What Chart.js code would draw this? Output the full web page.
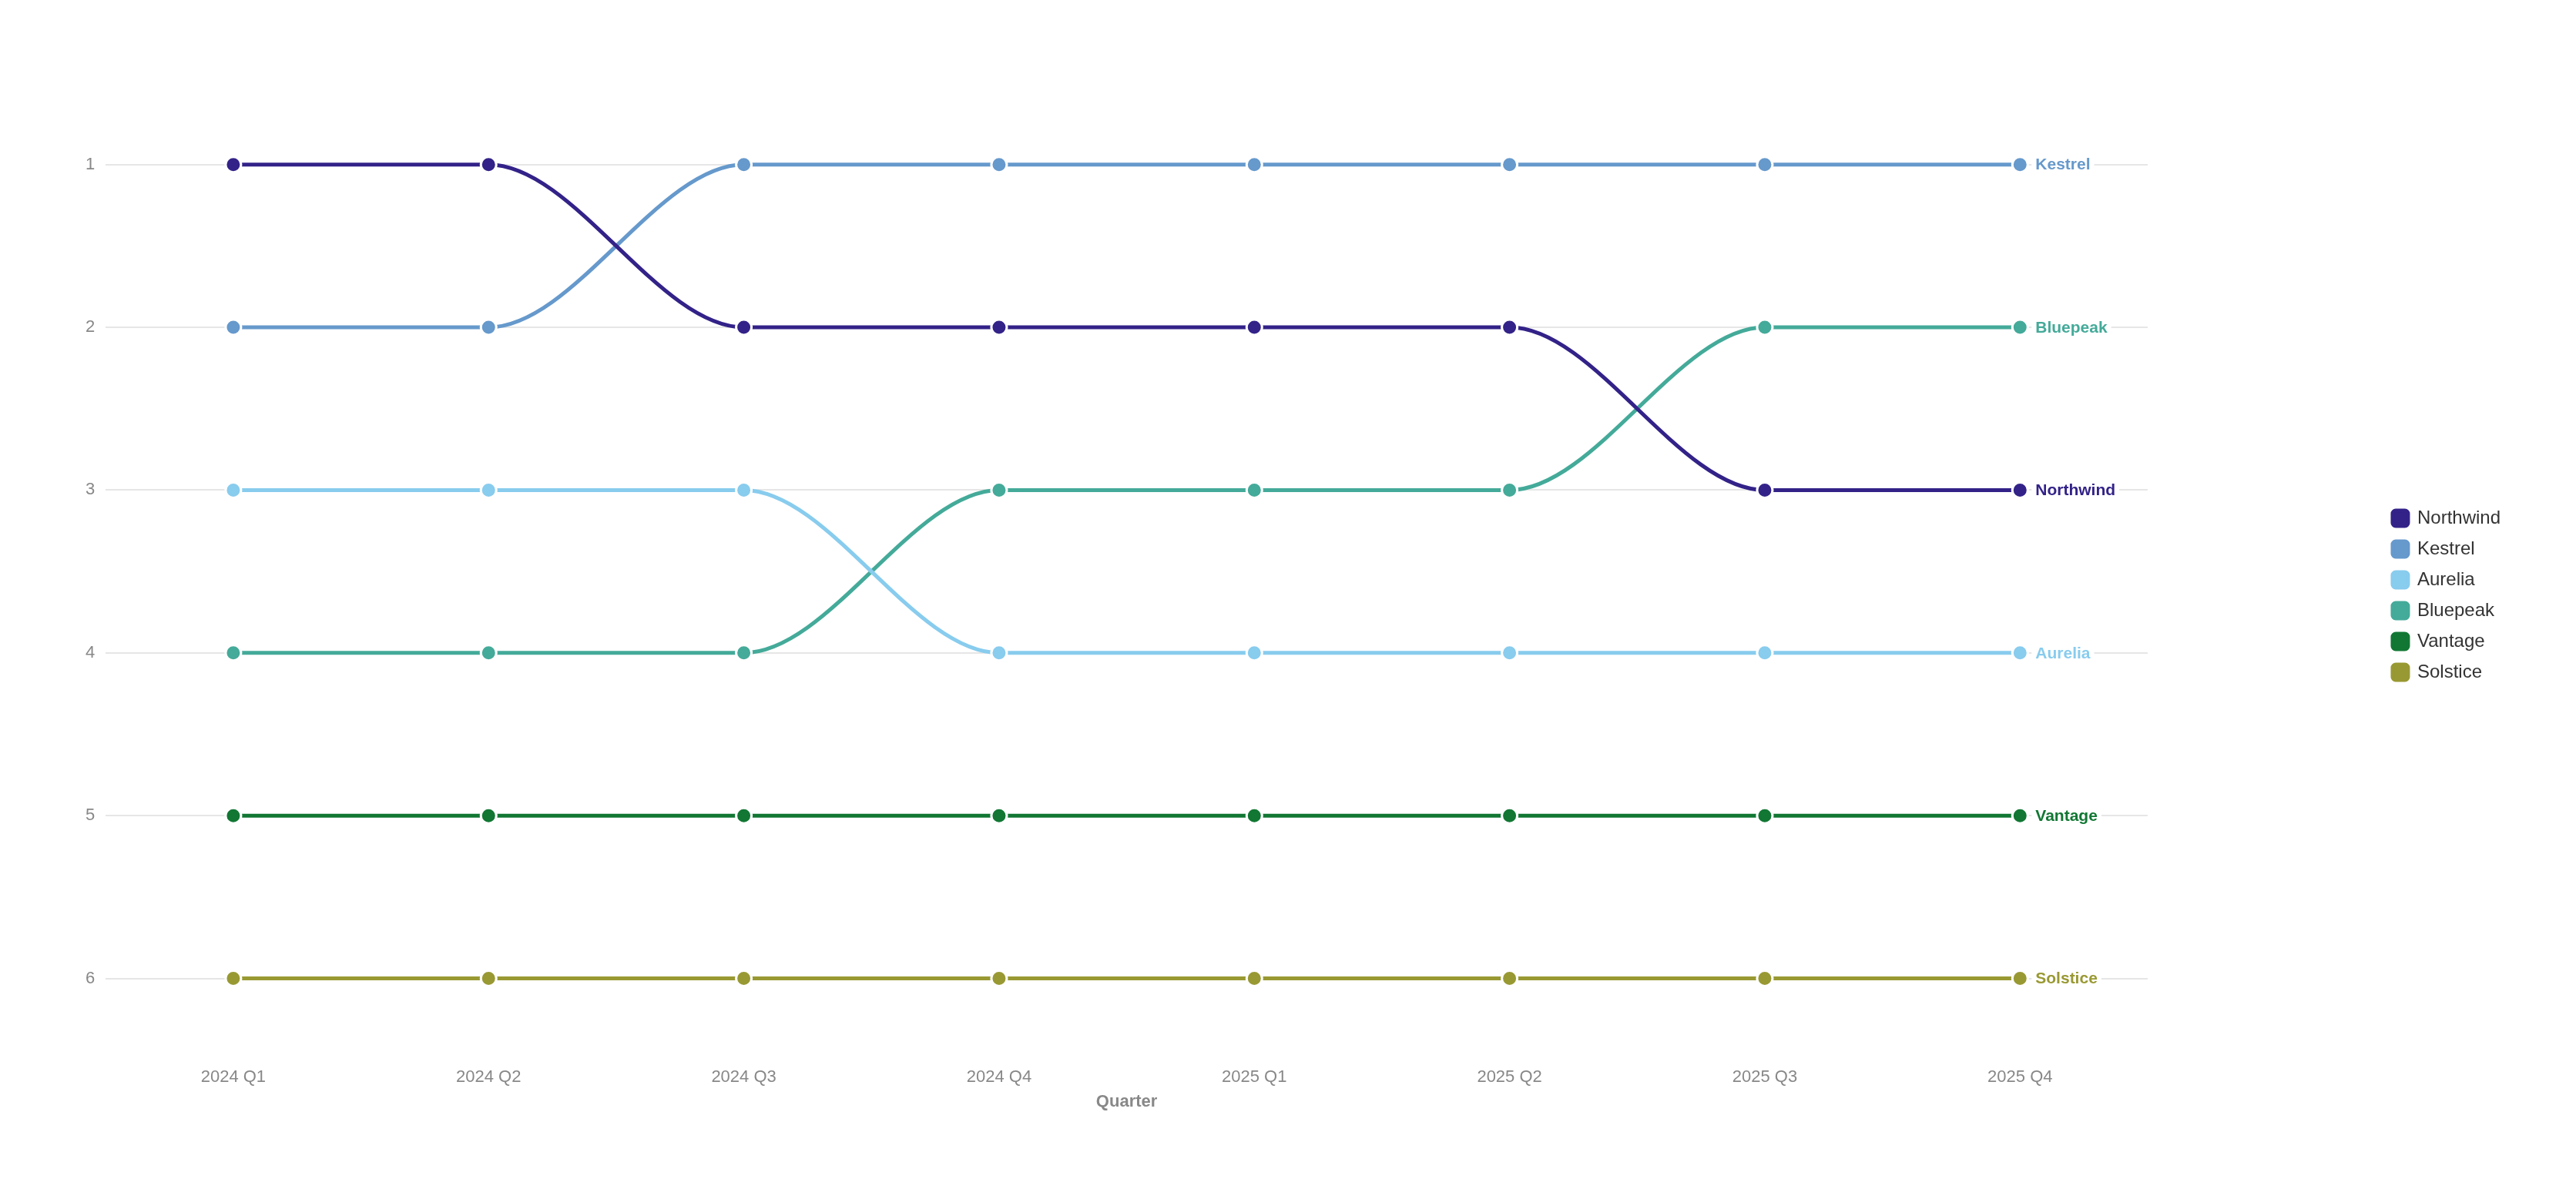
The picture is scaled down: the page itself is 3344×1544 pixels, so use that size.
<!DOCTYPE html>
<html>
<head>
<meta charset="utf-8">
<script src="https://cdn.jsdelivr.net/npm/chart.js@4"></script>
<style>
  html, body { margin: 0; padding: 0; background: #ffffff; }
  #wrap { width: 3344px; height: 1544px; position: relative; }
</style>
</head>
<body>
<div id="wrap"><canvas id="c"></canvas></div>
<script>
const quarters = ['2024 Q1', '2024 Q2', '2024 Q3', '2024 Q4', '2025 Q1', '2025 Q2', '2025 Q3', '2025 Q4'];
const seriesNames = ['Northwind', 'Kestrel', 'Aurelia', 'Bluepeak', 'Vantage', 'Solstice'];
const northwind = [1, 1, 2, 2, 2, 2, 3, 3];
const kestrel   = [2, 2, 1, 1, 1, 1, 1, 1];
const aurelia   = [3, 3, 3, 4, 4, 4, 4, 4];
const bluepeak  = [4, 4, 4, 3, 3, 3, 2, 2];
const vantage   = [5, 5, 5, 5, 5, 5, 5, 5];
const solstice  = [6, 6, 6, 6, 6, 6, 6, 6];
const rankTicks = [1, 2, 3, 4, 5, 6];
const seriesColors = ['#332288', '#6699CC', '#88CCEE', '#44AA99', '#117733', '#999933'];

const seriesValues = [northwind, kestrel, aurelia, bluepeak, vantage, solstice];
const FONT = '"Liberation Sans", Arial, sans-serif';

const datasets = seriesNames.map((name, i) => ({
  label: name,
  data: seriesValues[i],
  borderColor: seriesColors[i],
  backgroundColor: seriesColors[i],
  pointBackgroundColor: seriesColors[i],
  pointBorderColor: '#ffffff',
  pointBorderWidth: 3,
  pointRadius: 10,
  borderWidth: 5,
  cubicInterpolationMode: 'monotone',
  fill: false
}));

const endLabels = {
  id: 'endLabels',
  afterDatasetsDraw(chart) {
    const ctx = chart.ctx;
    ctx.save();
    ctx.font = 'bold 21px ' + FONT;
    ctx.textBaseline = 'middle';
    ctx.textAlign = 'left';
    chart.data.datasets.forEach((ds, i) => {
      const meta = chart.getDatasetMeta(i);
      const pt = meta.data[meta.data.length - 1];
      if (!pt) return;
      const x = pt.x + 20;
      const y = pt.y;
      const w = ctx.measureText(ds.label).width;
      ctx.fillStyle = '#ffffff';
      ctx.fillRect(x - 5, y - 6, w + 10, 12);
      ctx.fillStyle = ds.borderColor;
      ctx.fillText(ds.label, x, y + 1);
    });
    ctx.restore();
  }
};

new Chart(document.getElementById('c'), {
  type: 'line',
  data: { labels: quarters, datasets },
  plugins: [endLabels],
  options: {
    responsive: true,
    maintainAspectRatio: false,
    devicePixelRatio: 1,
    animation: false,
    events: [],
    layout: { padding: { top: 98, bottom: 96, left: 97, right: 88 } },
    plugins: {
      legend: {
        position: 'right',
        align: 'center',
        labels: {
          font: { family: FONT, size: 24 },
          color: '#333333',
          boxWidth: 20,
          boxHeight: 20,
          padding: 16,
          useBorderRadius: true,
          borderRadius: 4
        }
      },
      tooltip: { enabled: false }
    },
    scales: {
      x: {
        type: 'category',
        offset: true,
        grid: { display: false, drawTicks: false },
        border: { display: false },
        ticks: { font: { family: FONT, size: 22 }, color: '#888888', padding: 10 },
        title: {
          display: true,
          text: 'Quarter',
          font: { family: FONT, size: 22, weight: 'bold' },
          color: '#888888',
          padding: { top: -5, bottom: 4 }
        }
      },
      y: {
        type: 'linear',
        reverse: true,
        min: 0.5,
        max: 6.5,
        afterBuildTicks(scale) {
          scale.ticks = rankTicks.map(v => ({ value: v }));
        },
        grid: { color: '#e6e6e6', lineWidth: 2, drawTicks: false },
        border: { display: false },
        ticks: { font: { family: FONT, size: 22 }, color: '#888888', padding: 14 }
      },
      pad: {
        type: 'linear',
        position: 'right',
        display: true,
        grid: { display: false, drawTicks: false },
        border: { display: false },
        ticks: { display: false },
        afterFit(scale) { scale.width = 302; }
      },
      padTop: {
        type: 'linear',
        position: 'top',
        display: true,
        grid: { display: false, drawTicks: false },
        border: { display: false },
        ticks: { display: false },
        afterFit(scale) { scale.height = 10; }
      }
    }
  }
});
</script>
</body>
</html>
